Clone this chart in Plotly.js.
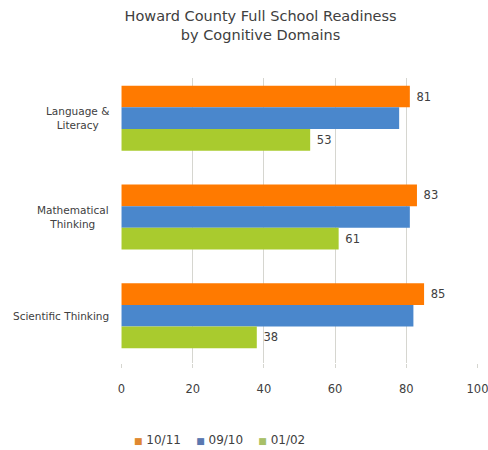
<!DOCTYPE html>
<html>
<head>
<meta charset="utf-8">
<script src="https://cdn.plot.ly/plotly-3.0.1.min.js"></script>
<style>html,body{margin:0;padding:0;background:#fff}#chart{width:488px;height:450px}</style>
</head>
<body>
<div id="chart"></div>
<script>
var categories = ["Language &<br>Literacy", "Mathematical<br>Thinking", "Scientific Thinking"];
var seriesNames = ["10/11", "09/10", "01/02"];
var values1011 = [81, 83, 85];
var values0910 = [78, 81, 82];
var values0102 = [53, 61, 38];
var showLabels = [true, false, true];
var colors = ["#FF7A00", "#4A87CC", "#A9CB2E"];
var legendColors = ["#E08830", "#5A78B0", "#A8C068"];
var xTicks = [0, 20, 40, 60, 80, 100];

var allValues = [values1011, values0910, values0102];
var traces = allValues.map(function (vals, i) {
  return {
    type: "bar",
    orientation: "h",
    name: seriesNames[i],
    y: categories,
    x: vals,
    marker: {color: colors[i]},
    text: showLabels[i] ? vals.map(function (v) { return "\u00a0" + v; }) : null,
    textposition: showLabels[i] ? "outside" : "none",
    textfont: {family: "DejaVu Sans", size: 11.5, color: "#404040"},
    cliponaxis: false,
    showlegend: false,
    hoverinfo: "x"
  };
});

// category labels (centered multi-line, like the original)
var annotations = categories.map(function (c) {
  return {
    xref: "paper", yref: "y",
    x: -10 / 356.5, y: c,
    xanchor: "right", yanchor: "middle",
    align: "center",
    text: c,
    showarrow: false,
    font: {family: "DejaVu Sans", size: 10.5, color: "#404040"}
  };
});

// legend row
var legendText = seriesNames.map(function (n, i) {
  return '<span style="color:' + legendColors[i] + ';font-size:9px">\u25A0</span>\u00a0' + n;
}).join("\u00a0\u00a0\u00a0\u00a0");
annotations.push({
  xref: "paper", yref: "paper",
  x: (219 - 121) / 356.5, y: (363 - 440) / 285,
  xanchor: "center", yanchor: "middle",
  text: legendText,
  showarrow: false,
  font: {family: "DejaVu Sans", size: 12, color: "#404040"}
});

var layout = {
  width: 488,
  height: 450,
  margin: {l: 121, r: 9.5, t: 78, b: 87},
  paper_bgcolor: "#ffffff",
  plot_bgcolor: "#ffffff",
  font: {family: "DejaVu Sans", size: 11, color: "#404040"},
  title: {
    text: "Howard County Full School Readiness<br>by Cognitive Domains",
    font: {family: "DejaVu Sans", size: 14.5, color: "#404040"},
    xref: "container", x: 0.534, xanchor: "center",
    yref: "container", y: 1 - 21 / 450, yanchor: "middle"
  },
  barmode: "group",
  bargap: 0.342,
  bargroupgap: 0,
  showlegend: false,
  annotations: annotations,
  xaxis: {
    range: [-0.15, 100.15],
    tickvals: xTicks,
    ticktext: xTicks.map(String),
    showgrid: true,
    gridcolor: "#D6D6D0",
    zeroline: false,
    showline: false,
    ticks: "outside",
    ticklen: 4,
    tickcolor: "#D6D6D0",
    ticklabelstandoff: 11,
    ticklabeloverflow: "allow",
    tickfont: {family: "DejaVu Sans", size: 11.5, color: "#404040"},
    fixedrange: true
  },
  yaxis: {
    type: "category",
    range: [2.478, -0.407],
    showgrid: false,
    zeroline: false,
    showline: false,
    ticks: "",
    showticklabels: false,
    fixedrange: true
  }
};

Plotly.newPlot("chart", traces, layout, {displayModeBar: false, staticPlot: true});
</script>
</body>
</html>
